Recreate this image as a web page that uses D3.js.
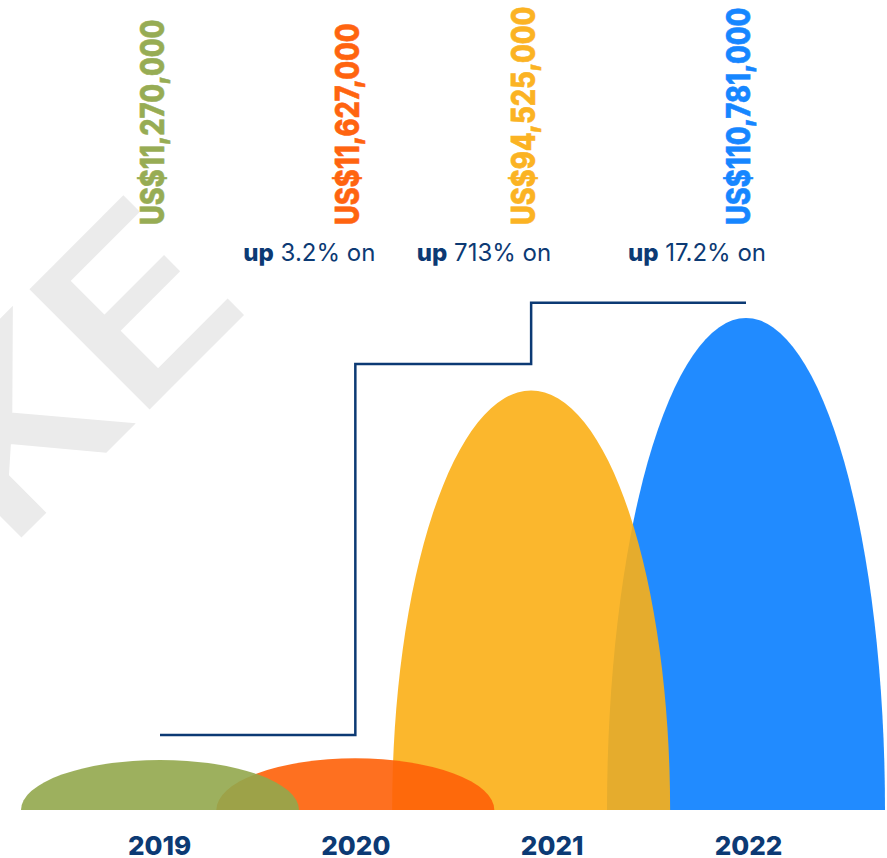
<!DOCTYPE html>
<html>
<head>
<meta charset="utf-8">
<script src="https://cdn.jsdelivr.net/npm/d3@7"></script>
<style>
  body { margin: 0; background: #fff; }
  svg { display: block; font-family: Inter, Roboto, sans-serif; }
</style>
</head>
<body>
<div id="chart"></div>
<script>
"use strict";

// data
var years = ["2019", "2020", "2021", "2022"];
var revenue = [11270000, 11627000, 94525000, 110781000];   // US$
var growth = [null, "3.2%", "713%", "17.2%"];               // up x% on previous year
var domeColours = ["#92a74c", "#fe6008", "#fbaf16", "#097eff"];
var textColours = ["#97ac54", "#ff6410", "#fbb323", "#1686ff"];
// levels of the step connector, in US$ millions
var stepLevels = [16.9, 100.4, 114.2, 114.2];

// layout
var width = 887, height = 858;
var baseY = 810;
var domeHalfWidth = 139;
var domeSlot = [0, 1, 1.9, 3];   // 2021 dome sits a little left of its label
var navy = "#0c3a74";

var svg = d3.select("#chart")
  .append("svg")
    .attr("width", width)
    .attr("height", height);

// faint watermark in the back, "K" runs off the left edge
var mark = svg.append("g")
    .attr("transform", "translate(135,424) rotate(-45) scale(1.2,1)")
    .style("font-family", "Roboto")
    .style("font-weight", 500)
    .style("font-size", "239px")
    .style("fill", "#ebebeb");
mark.append("text")
    .attr("text-anchor", "end")
    .text("K");
mark.append("text")
    .attr("text-anchor", "start")
    .text("E");

// scales
var x = d3.scalePoint()
    .domain(years)
    .range([159, 748]);

var domeX = d3.scaleLinear()
    .domain([0, 3])
    .range([160, 746]);

var y = d3.scaleLinear()
    .domain([0, d3.max(revenue)])
    .range([baseY, 318]);

var data = years.map(function(yr, i) {
  return {year: yr, value: revenue[i], growth: growth[i],
          fill: domeColours[i], text: textColours[i], cx: domeX(domeSlot[i])};
});

// domes, last year drawn first so the earlier ones sit on top
svg.append("g")
  .selectAll("path")
  .data(data.slice().reverse())
  .enter()
  .append("path")
    .attr("d", function(d) {
      var h = baseY - y(d.value);
      return "M" + (d.cx - domeHalfWidth) + "," + baseY +
             "A" + domeHalfWidth + "," + h + " 0 0 1 " + (d.cx + domeHalfWidth) + "," + baseY + "Z";
    })
    .style("fill", function(d) { return d.fill; })
    .style("fill-opacity", 0.9);

// step connector
var step = d3.line()
    .x(function(d) { return d[0]; })
    .y(function(d) { return y(d[1] * 1e6); })
    .curve(d3.curveStepAfter);

svg.append("path")
    .datum(data.map(function(d, i) { return [d.cx, stepLevels[i]]; }))
    .attr("d", step)
    .style("fill", "none")
    .style("stroke", navy)
    .style("stroke-width", 2.5);

// rotated value labels
var fmt = d3.format(",");
var squeeze = 0.85;
svg.append("g")
  .selectAll("text")
  .data(data)
  .enter()
  .append("text")
    .attr("transform", function(d) { return "translate(" + (d.cx + 4) + ",225) rotate(-90)"; })
    .style("font-size", "32px")
    .style("font-weight", 800)
    .style("fill", function(d) { return d.text; })
    .style("stroke", function(d) { return d.text; })
    .style("stroke-width", 0.6)
    .text(function(d) { return "US$" + fmt(d.value); })
    .each(function() {
      var len = this.getComputedTextLength();
      d3.select(this)
        .attr("textLength", len * squeeze)
        .attr("lengthAdjust", "spacingAndGlyphs");
    });

// growth notes
var notes = svg.append("g")
  .selectAll("text")
  .data(data.filter(function(d) { return d.growth; }))
  .enter()
  .append("text")
    .attr("x", function(d) { return d.cx + 20; })
    .attr("y", 261)
    .attr("text-anchor", "end")
    .style("font-size", "24px")
    .style("fill", navy);
notes.append("tspan")
    .style("font-weight", 800)
    .text("up");
notes.append("tspan")
    .text(function(d) { return " " + d.growth + " on"; });

// year axis
svg.append("g")
    .attr("transform", "translate(0," + (baseY + 45) + ")")
    .call(d3.axisBottom(x).tickSize(0).tickPadding(0))
    .call(function(g) { g.select(".domain").remove(); })
    .selectAll("text")
      .attr("dy", 0)
      .style("font-family", "Inter, Roboto, sans-serif")
      .style("font-size", "26px")
      .style("font-weight", 800)
      .style("fill", navy);
</script>
</body>
</html>
